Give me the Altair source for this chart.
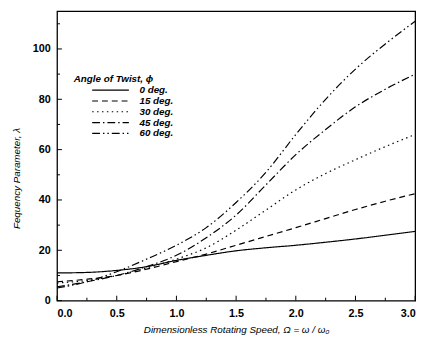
import altair as alt
import pandas as pd

speed = [0.0, 0.25, 0.5, 0.75, 1.0, 1.25, 1.5, 1.75, 2.0, 2.25, 2.5, 2.75, 3.0]
deg0 = [11.0, 11.2, 12.0, 13.5, 16.0, 18.0, 19.8, 21.0, 22.0, 23.2, 24.5, 26.0, 27.5]
deg15 = [7.5, 8.5, 10.0, 12.5, 15.5, 18.5, 22.0, 25.5, 29.0, 32.6, 36.2, 39.5, 42.5]
deg30 = [7.0, 8.0, 10.0, 13.0, 16.5, 21.0, 28.0, 36.0, 44.0, 50.5, 56.0, 61.2, 66.0]
deg45 = [5.5, 7.5, 10.0, 13.5, 18.0, 25.0, 34.0, 46.0, 58.0, 68.0, 77.0, 84.0, 90.0]
deg60 = [5.0, 7.5, 11.5, 16.5, 22.0, 29.0, 39.0, 51.0, 66.0, 80.0, 92.0, 102.0, 111.0]

series_names = ["0 deg.", "15 deg.", "30 deg.", "45 deg.", "60 deg."]
dashes = [[1, 0], [6, 4], [1.5, 3.5], [8, 3, 1.5, 3], [8, 3, 1.5, 3, 1.5, 3]]

x_major = [0.0, 0.5, 1.0, 1.5, 2.0, 2.5, 3.0]
x_minor = [0.25, 0.75, 1.25, 1.75, 2.25, 2.75]
y_major = [0, 20, 40, 60, 80, 100]
y_minor = [10, 30, 50, 70, 90, 110]

rows = []
for name, vals in zip(series_names, [deg0, deg15, deg30, deg45, deg60]):
    for s, v in zip(speed, vals):
        rows.append({"speed": s, "lam": v, "twist": name})
df = pd.DataFrame(rows)

FONT = "Liberation Sans"
xs = alt.Scale(domain=[0, 3], nice=False, zero=False)
ys = alt.Scale(domain=[0, 115], nice=False)

lines = alt.Chart(df).mark_line(color="black", strokeWidth=1.2, interpolate="monotone").encode(
    x=alt.X("speed:Q", scale=xs,
            axis=alt.Axis(values=x_major, format=".1f", ticks=False, grid=False, domain=False,
                          labelPadding=7, labelFontSize=11, labelFontWeight="bold",
                          labelFont=FONT, labelColor="black",
                          title="Dimensionless Rotating Speed,  Ω = ω / ω₀",
                          titleFont=FONT, titleFontSize=10, titleFontStyle="italic",
                          titleFontWeight="normal", titleColor="black", titlePadding=6)),
    y=alt.Y("lam:Q", scale=ys,
            axis=alt.Axis(values=y_major, ticks=False, grid=False, domain=False,
                          labelPadding=7, labelFontSize=11, labelFontWeight="bold",
                          labelFont=FONT, labelColor="black",
                          title="Fequency Parameter,  λ",
                          titleFont=FONT, titleFontSize=10, titleFontStyle="italic",
                          titleFontWeight="normal", titleColor="black",
                          titleX=-36, titleY=170)),
    strokeDash=alt.StrokeDash("twist:N", sort=series_names,
                              scale=alt.Scale(domain=series_names, range=dashes),
                              legend=alt.Legend(orient="none", legendX=17, legendY=64,
                                                title="Angle of Twist, ϕ",
                                                titleFont=FONT, titleFontSize=10,
                                                titleFontStyle="italic", titleFontWeight="bold",
                                                titleColor="black", titlePadding=2,
                                                labelFont=FONT, labelFontSize=10,
                                                labelFontStyle="italic", labelFontWeight="bold",
                                                labelColor="black", labelOffset=10,
                                                symbolType="stroke", symbolSize=1400,
                                                symbolStrokeColor="black", symbolStrokeWidth=1.2,
                                                symbolOffset=18, rowPadding=0, clipHeight=9)),
    detail="twist:N",
)

xmaj = alt.Chart(pd.DataFrame({"v": x_major})).mark_rule(color="black", strokeWidth=1).encode(
    x=alt.X("v:Q", scale=xs), y=alt.value(295), y2=alt.value(290))
xmin = alt.Chart(pd.DataFrame({"v": x_minor})).mark_rule(color="black", strokeWidth=1).encode(
    x=alt.X("v:Q", scale=xs), y=alt.value(295), y2=alt.value(292))
ymaj = alt.Chart(pd.DataFrame({"v": y_major})).mark_rule(color="black", strokeWidth=1).encode(
    y=alt.Y("v:Q", scale=ys), x=alt.value(0), x2=alt.value(5))
ymin = alt.Chart(pd.DataFrame({"v": y_minor})).mark_rule(color="black", strokeWidth=1).encode(
    y=alt.Y("v:Q", scale=ys), x=alt.value(0), x2=alt.value(3))

chart = alt.layer(lines, xmaj, xmin, ymaj, ymin).properties(
    width=365, height=295,
    autosize=alt.AutoSizeParams(type="none"),
    padding={"left": 50, "top": 0, "right": 9, "bottom": 44},
    background="white",
).configure_view(stroke="black", strokeWidth=1.3)

chart.save("out.html", embed_options={"renderer": "svg", "actions": False})
